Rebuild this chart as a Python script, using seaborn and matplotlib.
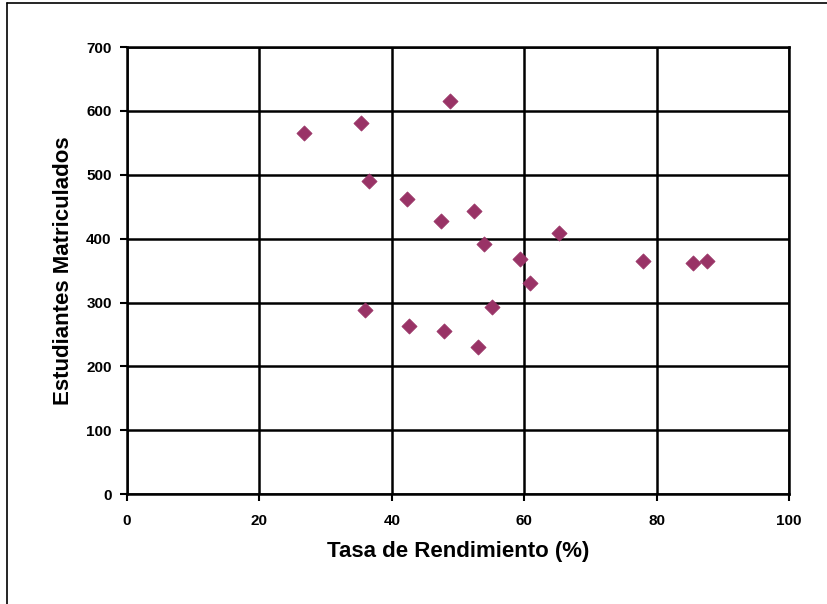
import numpy as np
import pandas as pd
import seaborn as sns
import matplotlib.pyplot as plt
from matplotlib.lines import Line2D

# data
tasa = [26.7, 35.3, 48.8, 36.5, 42.3, 47.4, 52.4, 53.9, 59.4, 60.8,
        65.3, 78.0, 85.5, 87.6, 35.9, 42.6, 47.9, 53.0, 55.1]
matriculados = [566, 581, 615, 491, 462, 428, 443, 391, 368, 331,
                409, 365, 362, 365, 288, 263, 256, 231, 293]
x_ticks = [0, 20, 40, 60, 80, 100]
y_ticks = [0, 100, 200, 300, 400, 500, 600, 700]

df = pd.DataFrame({"tasa": tasa, "matriculados": matriculados})

sns.set_theme(style="white")
plt.rcParams["font.family"] = ["Liberation Sans", "DejaVu Sans"]
plt.rcParams["text.color"] = "black"
plt.rcParams["axes.labelcolor"] = "black"
plt.rcParams["xtick.color"] = "black"
plt.rcParams["ytick.color"] = "black"

fig = plt.figure(figsize=(8.27, 6.04), dpi=100)
ax = fig.add_axes([0.1536, 0.182, 0.8005, 0.740])

sns.scatterplot(data=df, x="tasa", y="matriculados", ax=ax, marker="D",
                s=60, color="#993366", edgecolor="#993366", linewidth=0.5,
                zorder=3, legend=False)

ax.set_xlim(0, 100)
ax.set_ylim(0, 700)
ax.set_xticks(x_ticks)
ax.set_yticks(y_ticks)
ax.set_xticklabels([str(v) for v in x_ticks], fontsize=11, fontweight="bold")
ax.set_yticklabels([str(v) for v in y_ticks], fontsize=11, fontweight="bold")
ax.tick_params(axis="both", direction="out", length=5, width=1.5, color="black",
               bottom=True, left=True)
ax.tick_params(axis="y", pad=6)
ax.tick_params(axis="x", pad=9)

ax.grid(True, color="black", linewidth=1.8)
ax.set_axisbelow(True)
for side in ["left", "bottom", "right", "top"]:
    ax.spines[side].set_visible(True)
    ax.spines[side].set_color("black")
    ax.spines[side].set_linewidth(1.8)

ax.set_xlabel("Tasa de Rendimiento (%)", fontsize=16, fontweight="bold", labelpad=10)
ax.set_ylabel("Estudiantes Matriculados", fontsize=16, fontweight="bold", labelpad=9)

# thin outer chart-area frame (left and top edges visible)
fig.add_artist(Line2D([7 / 827, 7 / 827], [0, 1 - 3 / 604], color="black", linewidth=1.2))
fig.add_artist(Line2D([7 / 827, 1], [1 - 3 / 604, 1 - 3 / 604], color="black", linewidth=1.2))

fig.savefig("out.png", dpi=100)
